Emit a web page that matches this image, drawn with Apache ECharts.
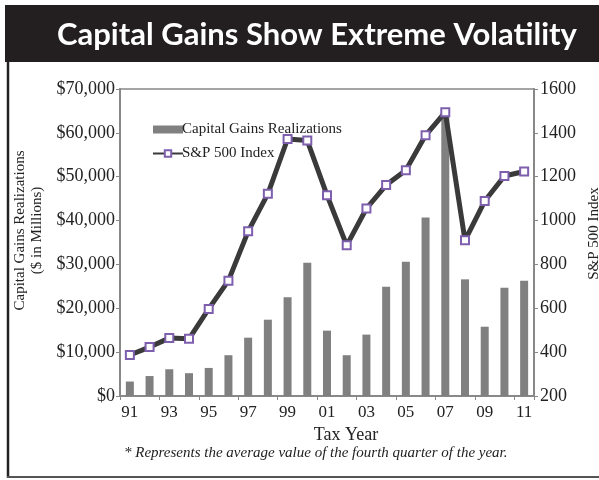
<!DOCTYPE html>
<html>
<head>
<meta charset="utf-8">
<script src="https://cdn.jsdelivr.net/npm/echarts@6/dist/echarts.min.js"></script>
<style>html,body{margin:0;padding:0;background:#fff}#c{width:599px;height:480px}</style>
</head>
<body>
<div id="c"></div>
<script>
var years = ['91','92','93','94','95','96','97','98','99','00','01','02','03','04','05','06','07','08','09','10','11'];
var gains = [3300, 4550, 6100, 5200, 6400, 9300, 13300, 17400, 22500, 30400, 14900, 9300, 14000, 24900, 30600, 40700, 64500, 26600, 15800, 24700, 26300];
var sp500 = [387, 423, 464, 461, 597, 726, 951, 1122, 1372, 1365, 1116, 887, 1055, 1162, 1230, 1389, 1494, 910, 1089, 1203, 1224];
var leftTicks = [0, 70000, 10000];
var rightTicks = [200, 1600, 200];

var serif = '"Liberation Serif", "DejaVu Serif", serif';
var chart = echarts.init(document.getElementById('c'), null, {renderer: 'canvas'});
chart.setOption({
  animation: false,
  title: {
    text: 'Capital Gains Show Extreme Volatility',
    left: 52, top: 14,
    textStyle: {color: '#fff', fontFamily: 'Lato, "Open Sans", sans-serif', fontWeight: 'bold', fontSize: 31}
  },
  graphic: [
    {type: 'rect', z: -1, shape: {x: 5, y: 5, width: 594, height: 57}, style: {fill: '#231f20'}},
    {type: 'line', shape: {x1: 8, y1: 62, x2: 8, y2: 478}, style: {stroke: '#222', lineWidth: 2.5}},
    {type: 'line', shape: {x1: 7, y1: 477, x2: 599, y2: 477}, style: {stroke: '#555', lineWidth: 2}},
    {type: 'text', left: 124, top: 446, style: {text: '* Represents the average value of the fourth quarter of the year.', font: 'italic 15px "Liberation Serif", serif', fill: '#222'}}
  ],
  legend: {
    orient: 'vertical', left: 147, top: 117, itemGap: 9, itemWidth: 30, itemHeight: 8,
    textStyle: {fontFamily: serif, fontSize: 15, color: '#222', padding: [0,0,0,-6]},
    data: [
      {name: 'Capital Gains Realizations', icon: 'rect'},
      {name: 'S&P 500 Index'}
    ]
  },
  grid: {left: 120, right: 65, top: 89, bottom: 84, outerBoundsMode: 'none', containLabel: false,
    show: true, borderColor: '#888', borderWidth: 1.5, backgroundColor: 'transparent'},
  xAxis: {
    type: 'category', data: years, boundaryGap: true,
    name: 'Tax Year', nameLocation: 'middle', nameGap: 23,
    nameTextStyle: {fontFamily: serif, fontSize: 18, color: '#222', padding: [0,0,0,38]},
    axisLine: {lineStyle: {color: '#888', width: 2}},
    axisTick: {show: true, length: 4, lineStyle: {color: '#888'}, alignWithLabel: false},
    axisLabel: {interval: 1, fontFamily: serif, fontSize: 17, color: '#222', margin: 8}
  },
  yAxis: [
    {
      type: 'value', min: leftTicks[0], max: leftTicks[1], interval: leftTicks[2],
      name: 'Capital Gains Realizations\n($ in Millions)', nameLocation: 'middle', nameRotate: 90, nameGap: 74,
      nameTextStyle: {fontFamily: serif, fontSize: 15, color: '#222', lineHeight: 17, padding: [0,0,0,24]},
      splitLine: {show: false},
      axisLine: {show: true, lineStyle: {color: '#888', width: 2}},
      axisTick: {show: true, length: 4, lineStyle: {color: '#888'}},
      axisLabel: {fontFamily: serif, fontSize: 18, color: '#222', margin: 5,
        formatter: function (v) { return '$' + v.toLocaleString('en-US'); }}
    },
    {
      type: 'value', min: rightTicks[0], max: rightTicks[1], interval: rightTicks[2], position: 'right',
      name: 'S&P 500 Index', nameLocation: 'middle', nameRotate: 90, nameGap: 49,
      nameTextStyle: {fontFamily: serif, fontSize: 15, color: '#222', padding: [0,0,0,18]},
      splitLine: {show: false},
      axisLine: {show: true, lineStyle: {color: '#888', width: 2}},
      axisTick: {show: true, length: 4, lineStyle: {color: '#888'}},
      axisLabel: {fontFamily: serif, fontSize: 18, color: '#222', margin: 6,
        formatter: function (v) { return String(v); }}
    }
  ],
  series: [
    {
      name: 'Capital Gains Realizations', type: 'bar', yAxisIndex: 0, data: gains,
      barWidth: 8, itemStyle: {color: '#808080'}
    },
    {
      name: 'S&P 500 Index', type: 'line', yAxisIndex: 1, data: sp500,
      symbol: 'rect', symbolSize: 8,
      lineStyle: {color: '#3a3a3a', width: 5},
      itemStyle: {color: '#fff', borderColor: '#7d5fae', borderWidth: 2}
    }
  ]
});
</script>
</body>
</html>
